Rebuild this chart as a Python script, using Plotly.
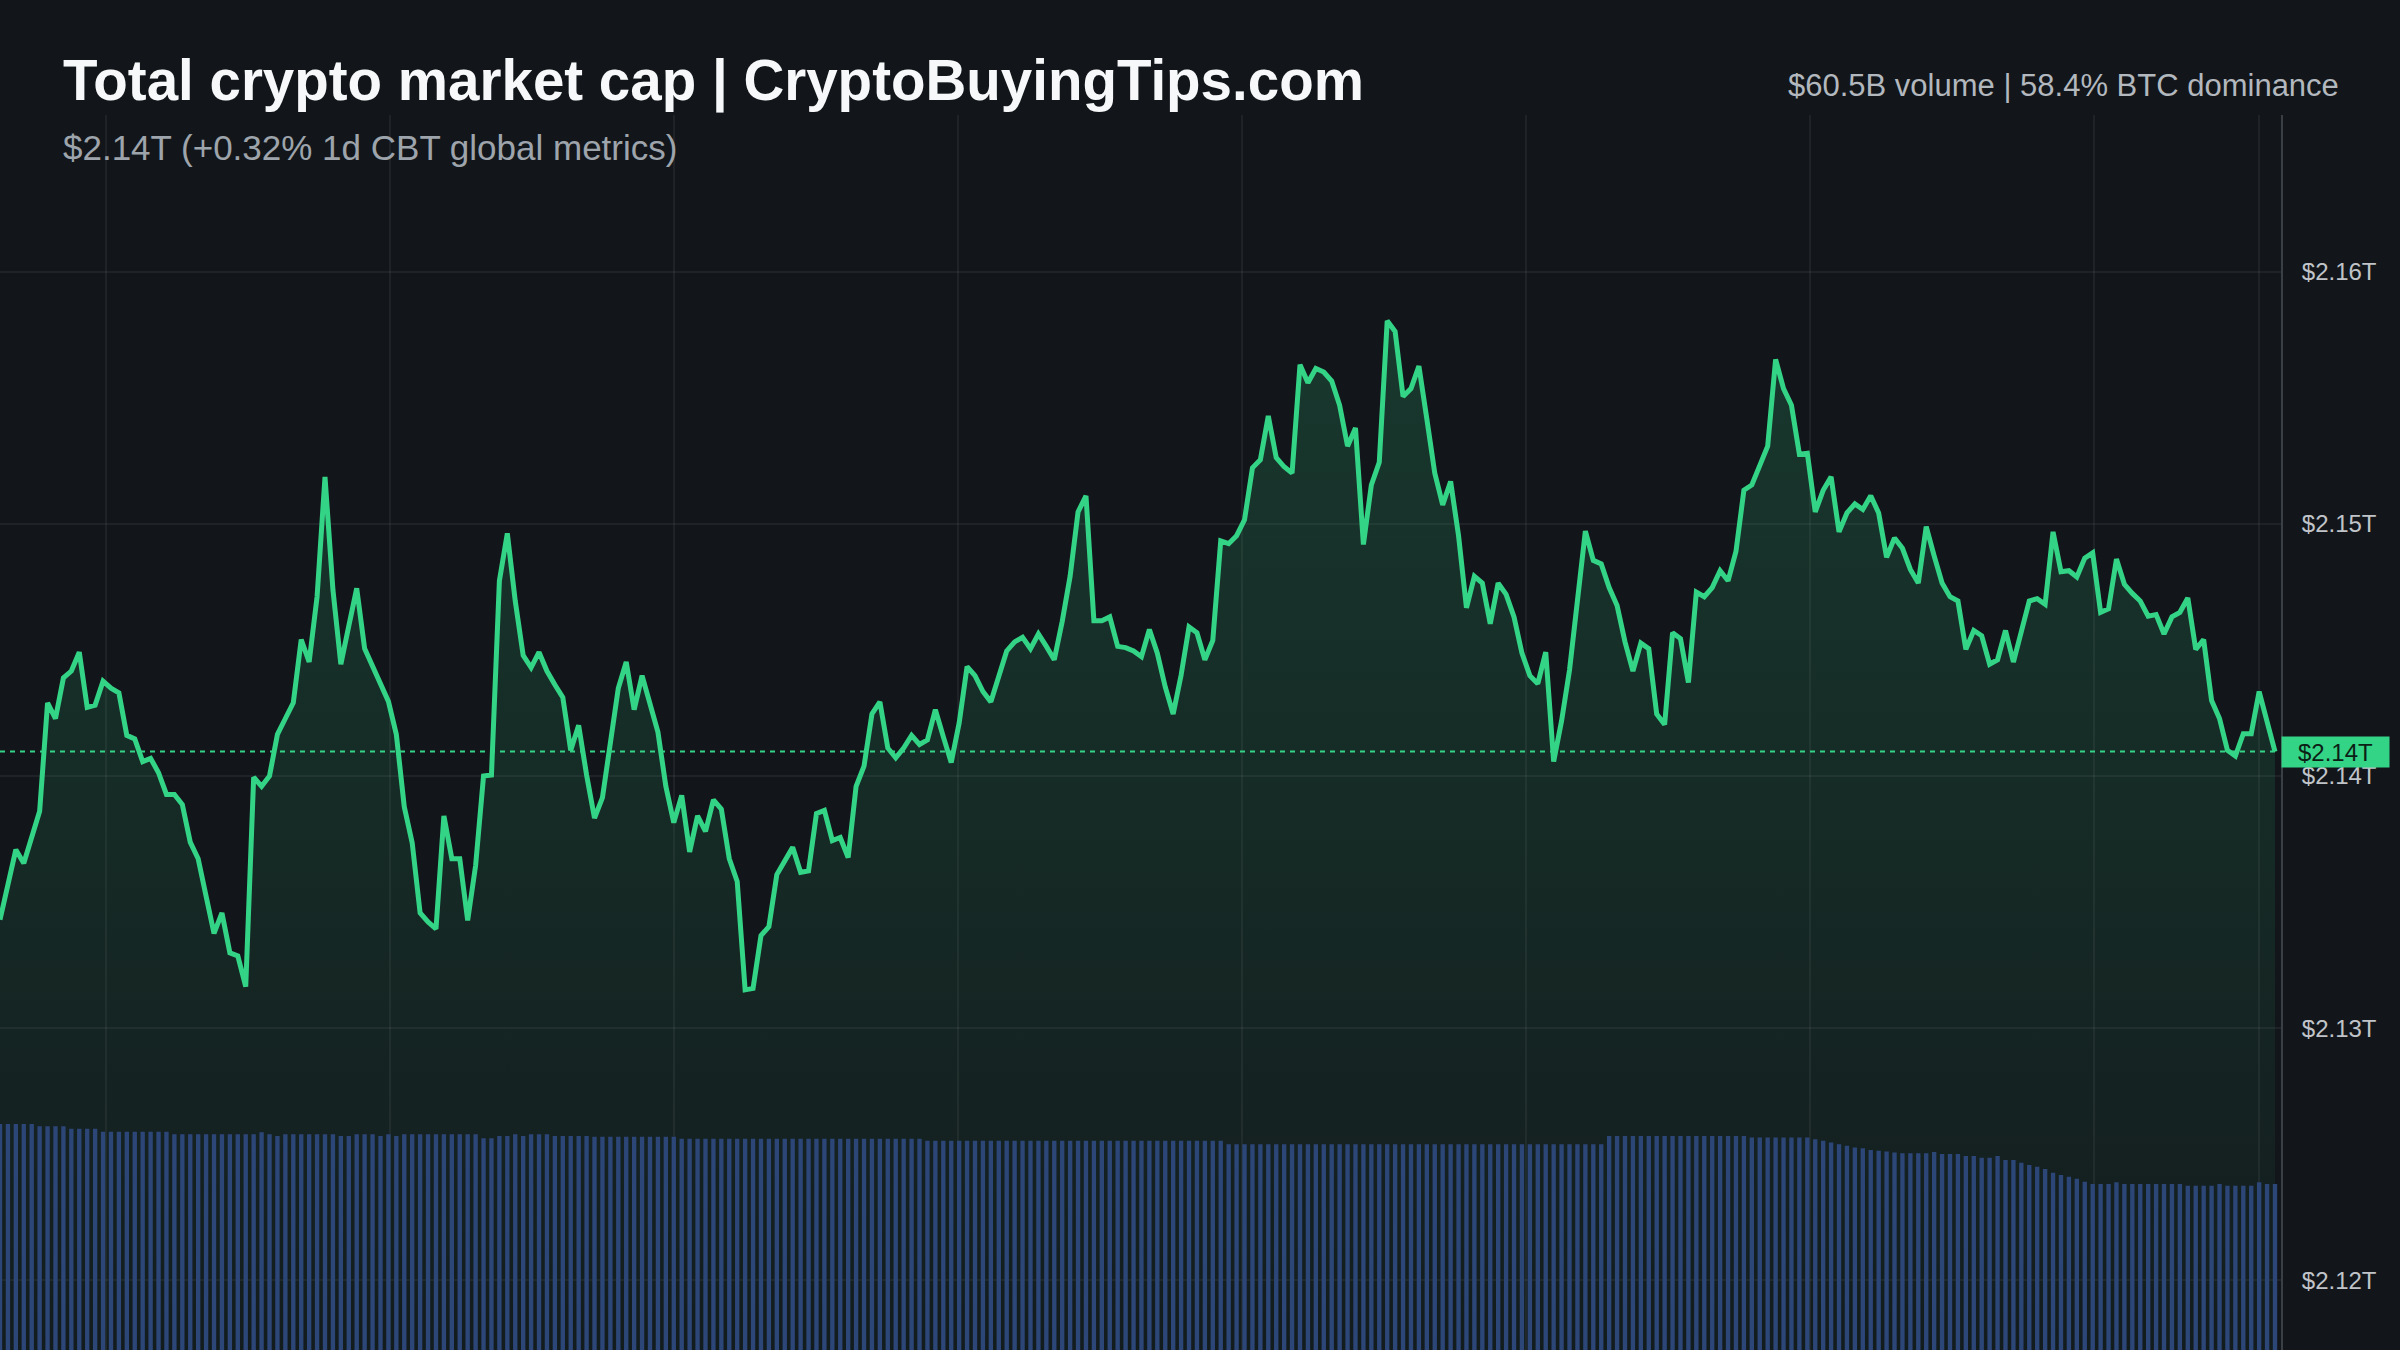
import plotly.graph_objects as go

# ---------------- data ----------------
# Total market cap, 5-minute points over one day, in $ billions
cap_bn = [
    2134.30, 2135.70, 2137.08, 2136.54, 2137.56, 2138.60, 2142.90, 2142.28, 2143.89, 2144.16,
    2144.91, 2142.72, 2142.81, 2143.76, 2143.48, 2143.30, 2141.61, 2141.47, 2140.57, 2140.70,
    2140.13, 2139.27, 2139.27, 2138.87, 2137.38, 2136.72, 2135.23, 2133.76, 2134.57, 2132.99,
    2132.87, 2131.65, 2139.95, 2139.59, 2140.00, 2141.65, 2142.28, 2142.90, 2145.41, 2144.52,
    2147.11, 2151.86, 2147.38, 2144.43, 2145.95, 2147.44, 2145.05, 2144.34, 2143.62, 2142.96,
    2141.65, 2138.78, 2137.35, 2134.57, 2134.21, 2133.94, 2138.42, 2136.72, 2136.72, 2134.27,
    2136.45, 2140.00, 2140.04, 2147.74, 2149.62, 2146.94, 2144.78, 2144.30, 2144.91, 2144.16,
    2143.62, 2143.12, 2141.02, 2142.01, 2140.04, 2138.33, 2139.14, 2141.38, 2143.48, 2144.52,
    2142.63, 2143.98, 2142.81, 2141.74, 2139.59, 2138.15, 2139.23, 2136.99, 2138.42, 2137.80,
    2139.05, 2138.69, 2136.72, 2135.82, 2131.52, 2131.58, 2133.67, 2134.03, 2136.09, 2136.63,
    2137.17, 2136.18, 2136.24, 2138.51, 2138.64, 2137.44, 2137.56, 2136.77, 2139.59, 2140.39,
    2142.46, 2142.94, 2141.11, 2140.72, 2141.11, 2141.61, 2141.25, 2141.43, 2142.63, 2141.56,
    2140.54, 2142.10, 2144.34, 2143.98, 2143.35, 2142.94, 2143.98, 2144.96, 2145.32, 2145.50,
    2145.05, 2145.63, 2145.14, 2144.61, 2146.13, 2147.92, 2150.47, 2151.11, 2146.16, 2146.16,
    2146.31, 2145.14, 2145.09, 2144.96, 2144.73, 2145.81, 2144.87, 2143.53, 2142.46, 2144.00,
    2145.91, 2145.68, 2144.61, 2145.38, 2149.32, 2149.21, 2149.53, 2150.16, 2152.22, 2152.54,
    2154.28, 2152.62, 2152.26, 2152.01, 2156.31, 2155.59, 2156.16, 2156.02, 2155.66, 2154.70,
    2153.08, 2153.80, 2149.18, 2151.54, 2152.44, 2158.05, 2157.63, 2155.05, 2155.36, 2156.25,
    2154.16, 2152.01, 2150.75, 2151.68, 2149.53, 2146.67, 2147.92, 2147.65, 2146.04, 2147.65,
    2147.20, 2146.31, 2144.87, 2143.98, 2143.66, 2144.91, 2140.57, 2142.19, 2144.20, 2147.03,
    2149.71, 2148.55, 2148.41, 2147.47, 2146.76, 2145.32, 2144.16, 2145.27, 2145.05, 2142.46,
    2142.04, 2145.68, 2145.45, 2143.71, 2147.29, 2147.11, 2147.47, 2148.14, 2147.74, 2148.91,
    2151.33, 2151.54, 2152.37, 2153.08, 2156.52, 2155.36, 2154.70, 2152.76, 2152.80, 2150.47,
    2151.33, 2151.86, 2149.68, 2150.43, 2150.79, 2150.57, 2151.11, 2150.43, 2148.67, 2149.44,
    2149.03, 2148.19, 2147.65, 2149.89, 2148.73, 2147.65, 2147.11, 2146.94, 2145.02, 2145.77,
    2145.56, 2144.43, 2144.61, 2145.77, 2144.52, 2145.68, 2146.94, 2147.03, 2146.81, 2149.68,
    2148.10, 2148.14, 2147.89, 2148.64, 2148.85, 2146.49, 2146.63, 2148.60, 2147.60, 2147.24,
    2146.94, 2146.34, 2146.40, 2145.63, 2146.31, 2146.49, 2147.06, 2145.02, 2145.41, 2142.99,
    2142.28, 2141.02, 2140.79, 2141.68, 2141.68, 2143.35, 2142.10, 2140.97,
]

# 5-minute volume bars, in $ billions
vol_bn = [
    0.2745, 0.2745, 0.2745, 0.2745, 0.2745, 0.2717, 0.2717, 0.2717, 0.2717, 0.2688,
    0.2688, 0.2688, 0.2688, 0.2651, 0.2651, 0.2651, 0.2651, 0.2651, 0.2651, 0.2651,
    0.2651, 0.2651, 0.2620, 0.2620, 0.2620, 0.2620, 0.2620, 0.2620, 0.2620, 0.2620,
    0.2620, 0.2620, 0.2620, 0.2644, 0.2620, 0.2599, 0.2620, 0.2620, 0.2620, 0.2620,
    0.2620, 0.2620, 0.2620, 0.2599, 0.2599, 0.2620, 0.2620, 0.2620, 0.2599, 0.2620,
    0.2599, 0.2620, 0.2620, 0.2620, 0.2620, 0.2620, 0.2620, 0.2620, 0.2620, 0.2620,
    0.2620, 0.2571, 0.2571, 0.2599, 0.2599, 0.2620, 0.2599, 0.2620, 0.2620, 0.2620,
    0.2599, 0.2599, 0.2599, 0.2599, 0.2599, 0.2590, 0.2590, 0.2590, 0.2590, 0.2590,
    0.2590, 0.2590, 0.2590, 0.2590, 0.2590, 0.2590, 0.2566, 0.2566, 0.2566, 0.2566,
    0.2566, 0.2566, 0.2566, 0.2566, 0.2566, 0.2566, 0.2566, 0.2566, 0.2566, 0.2566,
    0.2566, 0.2566, 0.2566, 0.2566, 0.2566, 0.2566, 0.2566, 0.2566, 0.2566, 0.2566,
    0.2566, 0.2566, 0.2566, 0.2566, 0.2566, 0.2566, 0.2566, 0.2540, 0.2540, 0.2540,
    0.2540, 0.2540, 0.2540, 0.2540, 0.2540, 0.2540, 0.2540, 0.2540, 0.2540, 0.2540,
    0.2540, 0.2540, 0.2540, 0.2540, 0.2540, 0.2540, 0.2540, 0.2540, 0.2540, 0.2540,
    0.2540, 0.2540, 0.2540, 0.2540, 0.2540, 0.2540, 0.2540, 0.2540, 0.2540, 0.2540,
    0.2540, 0.2540, 0.2540, 0.2540, 0.2540, 0.2500, 0.2500, 0.2500, 0.2500, 0.2500,
    0.2500, 0.2500, 0.2500, 0.2500, 0.2500, 0.2500, 0.2500, 0.2500, 0.2500, 0.2500,
    0.2500, 0.2500, 0.2500, 0.2500, 0.2500, 0.2500, 0.2500, 0.2500, 0.2500, 0.2500,
    0.2500, 0.2500, 0.2500, 0.2500, 0.2500, 0.2500, 0.2500, 0.2500, 0.2500, 0.2500,
    0.2500, 0.2500, 0.2500, 0.2500, 0.2500, 0.2500, 0.2500, 0.2500, 0.2500, 0.2500,
    0.2500, 0.2500, 0.2500, 0.2600, 0.2600, 0.2600, 0.2600, 0.2600, 0.2600, 0.2600,
    0.2600, 0.2600, 0.2600, 0.2600, 0.2600, 0.2600, 0.2600, 0.2600, 0.2600, 0.2600,
    0.2600, 0.2580, 0.2580, 0.2580, 0.2580, 0.2580, 0.2580, 0.2580, 0.2580, 0.2560,
    0.2540, 0.2520, 0.2500, 0.2480, 0.2460, 0.2450, 0.2430, 0.2420, 0.2410, 0.2400,
    0.2389, 0.2389, 0.2389, 0.2389, 0.2405, 0.2381, 0.2381, 0.2381, 0.2356, 0.2356,
    0.2336, 0.2336, 0.2356, 0.2308, 0.2308, 0.2275, 0.2247, 0.2226, 0.2198, 0.2153,
    0.2126, 0.2105, 0.2081, 0.2044, 0.2016, 0.2016, 0.2016, 0.2037, 0.2016, 0.2016,
    0.2016, 0.2016, 0.2016, 0.2016, 0.2016, 0.2016, 0.1996, 0.1996, 0.1996, 0.1996,
    0.2016, 0.1996, 0.1996, 0.1996, 0.1996, 0.2037, 0.2016, 0.2016,
]

tick_vals = [2120, 2130, 2140, 2150, 2160]
tick_text = ["$2.12T", "$2.13T", "$2.14T", "$2.15T", "$2.16T"]

title_text = "Total crypto market cap | CryptoBuyingTips.com"
subtitle_text = "$2.14T (+0.32% 1d CBT global metrics)"
stats_text = "$60.5B volume | 58.4% BTC dominance"
price_tag_text = "$2.14T"

# ---------------- styling ----------------
BG = "#12161a"
GREEN = "#34d487"
BAR = "#2c4678"
GRID = "rgba(255,255,255,0.055)"
FONT = "Liberation Sans, Arial, Helvetica, sans-serif"

W, H = 2400, 1350
M_L, M_R, M_T, M_B = 0, 119, 115, 0
PLOT_W = W - M_L - M_R
PLOT_H = H - M_T - M_B

x_line = list(range(len(cap_bn)))
x_bar = list(range(len(vol_bn)))

Y_LO, Y_HI = 2117.24, 2166.21
X_END = (len(cap_bn) - 1) * 2281 / 2275
grid_x = [13.4 + 35.83 * k for k in range(8)] + [285.0]

fig = go.Figure()

fig.add_trace(go.Scatter(
    x=x_line, y=cap_bn, mode="lines",
    line=dict(color=GREEN, width=5, shape="linear"),
    fill="tozeroy",
    fillgradient=dict(
        type="vertical",
        colorscale=[[0, "rgba(52,212,135,0.03)"], [1, "rgba(52,212,135,0.18)"]],
        start=Y_LO, stop=max(cap_bn),
    ),
    hoverinfo="skip",
))

fig.add_trace(go.Bar(
    x=x_bar, y=vol_bn, yaxis="y2",
    marker=dict(color=BAR, line=dict(width=0)),
    hoverinfo="skip",
))

last = cap_bn[-1]

fig.add_shape(
    type="line", xref="x", yref="y",
    x0=0, x1=x_line[-1], y0=last, y1=last,
    line=dict(color=GREEN, width=2, dash="5px,5px"),
    layer="above",
)

annotations = [
    dict(text=f"<b>{title_text}</b>", xref="paper", yref="paper",
         x=61 / PLOT_W, y=(H - 81) / PLOT_H, xanchor="left", yanchor="middle",
         showarrow=False, font=dict(family=FONT, size=56.5, color="#f7f8f9")),
    dict(text=subtitle_text, xref="paper", yref="paper",
         x=61 / PLOT_W, y=(H - 148) / PLOT_H, xanchor="left", yanchor="middle",
         showarrow=False, font=dict(family=FONT, size=35, color="#9ea4ab")),
    dict(text=stats_text, xref="paper", yref="paper",
         x=2341 / PLOT_W, y=(H - 86) / PLOT_H, xanchor="right", yanchor="middle",
         showarrow=False, font=dict(family=FONT, size=31, color="#b3b8be")),
    dict(text=price_tag_text, xref="paper", yref="y",
         x=1, y=last, xanchor="left", yanchor="middle",
         showarrow=False, bgcolor=GREEN, borderpad=4, width=99, height=22,
         align="center", font=dict(family=FONT, size=24, color="#0c1f15")),
]

fig.update_layout(
    width=W, height=H,
    margin=dict(l=M_L, r=M_R, t=M_T, b=M_B, pad=0),
    paper_bgcolor=BG, plot_bgcolor=BG,
    showlegend=False, bargap=0.45,
    annotations=annotations,
    xaxis=dict(range=[0, X_END], tickmode="array", tickvals=grid_x,
               showticklabels=False, showgrid=True, gridcolor=GRID, gridwidth=1.5,
               zeroline=False, showline=False, ticks=""),
    yaxis=dict(range=[Y_LO, Y_HI], side="right", tickmode="array",
               tickvals=tick_vals, ticktext=tick_text,
               showgrid=True, gridcolor=GRID, gridwidth=1.5,
               showline=True, linecolor="#3a3f45", linewidth=2,
               zeroline=False, ticks="", ticklabelstandoff=14,
               tickfont=dict(family=FONT, size=24, color="#c0c4c9")),
    yaxis2=dict(overlaying="y", range=[0, 1.5], visible=False, fixedrange=True),
)

fig.write_html("out.html")
